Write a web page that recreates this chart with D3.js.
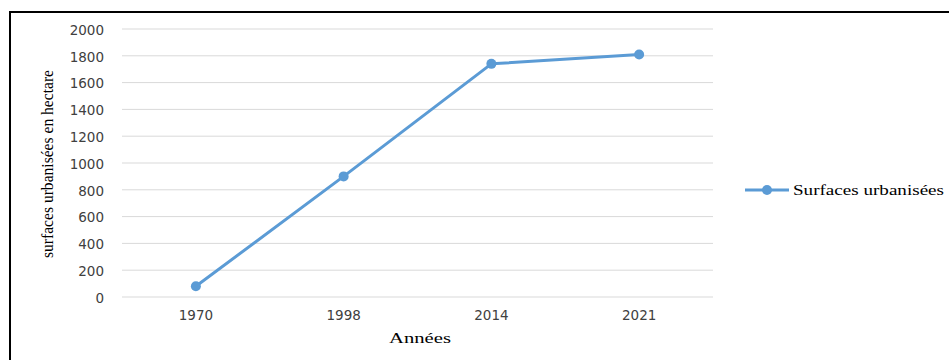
<!DOCTYPE html>
<html><head><meta charset="utf-8">
<script src="https://cdn.jsdelivr.net/npm/d3@7"></script>
<style>body{margin:0;background:#fff}svg{display:block}</style>
</head><body>
<script>
const categories = ["1970","1998","2014","2021"];
const values = [80, 900, 1740, 1810];
const yTicks = [0,200,400,600,800,1000,1200,1400,1600,1800,2000];
const seriesName = "Surfaces urbanisées";
const yTitle = "surfaces urbanisées en hectare";
const xTitle = "Années";

const W = 949, H = 360;
const svg = d3.select("body").append("svg").attr("width", W).attr("height", H);
svg.append("rect").attr("width", W).attr("height", H).attr("fill", "#fff");
// frame
svg.append("path").attr("d", `M10,${H+5} L10,12 L${W+5},12`).attr("fill","none").attr("stroke","#000").attr("stroke-width",2);

const x = d3.scaleBand().domain(categories).range([122, 713]);
const y = d3.scaleLinear().domain([0, 2000]).range([297, 29]);
const color = "#5B9BD5";

// gridlines
svg.append("g").selectAll("line").data(yTicks).join("line")
  .attr("x1", 122).attr("x2", 713)
  .attr("y1", d => y(d)).attr("y2", d => y(d))
  .attr("stroke", "#d9d9d9").attr("stroke-width", 1);

// y axis labels
const yAxis = svg.append("g").attr("transform", "translate(107,1)")
  .call(d3.axisLeft(y).tickValues(yTicks).tickSize(0).tickPadding(3).tickFormat(d3.format("d")));
yAxis.select(".domain").remove();
yAxis.selectAll("text").attr("font-family", "DejaVu Sans, sans-serif").attr("font-size", 13.5).attr("fill", "#404040");

// x axis labels
const xAxis = svg.append("g").attr("transform", "translate(0,297)")
  .call(d3.axisBottom(x).tickSize(0).tickPadding(13));
xAxis.select(".domain").remove();
xAxis.selectAll("text").attr("font-family", "DejaVu Sans, sans-serif").attr("font-size", 13.5).attr("fill", "#404040");

// titles
svg.append("text").attr("transform", "translate(53,164) rotate(-90)")
  .attr("text-anchor", "middle").attr("font-family", "Liberation Serif, serif")
  .attr("font-size", 17).attr("fill", "#000")
  .attr("textLength", 188).attr("lengthAdjust", "spacingAndGlyphs")
  .text(yTitle);
svg.append("text").attr("x", 420).attr("y", 343)
  .attr("text-anchor", "middle").attr("font-family", "Liberation Serif, serif")
  .attr("font-size", 15.5).attr("fill", "#000")
  .attr("textLength", 62).attr("lengthAdjust", "spacingAndGlyphs").text(xTitle);

// line
const cx = d => x(d) + x.bandwidth() / 2;
const line = d3.line().x((d, i) => cx(categories[i])).y(d => y(d));
svg.append("path").datum(values).attr("d", line)
  .attr("fill", "none").attr("stroke", color).attr("stroke-width", 3).attr("stroke-linejoin", "round");
svg.append("g").selectAll("circle").data(values).join("circle")
  .attr("cx", (d, i) => cx(categories[i])).attr("cy", d => y(d)).attr("r", 5)
  .attr("fill", color);

// legend
const lg = svg.append("g").attr("transform", "translate(745,190)");
lg.append("line").attr("x1", 0).attr("x2", 44).attr("stroke", color).attr("stroke-width", 3);
lg.append("circle").attr("cx", 22).attr("r", 5).attr("fill", color);
lg.append("text").attr("x", 48).attr("y", 5).attr("font-family", "Liberation Serif, serif")
  .attr("font-size", 14.5).attr("fill", "#000")
  .attr("textLength", 151).attr("lengthAdjust", "spacingAndGlyphs").text(seriesName);
</script>
</body></html>
